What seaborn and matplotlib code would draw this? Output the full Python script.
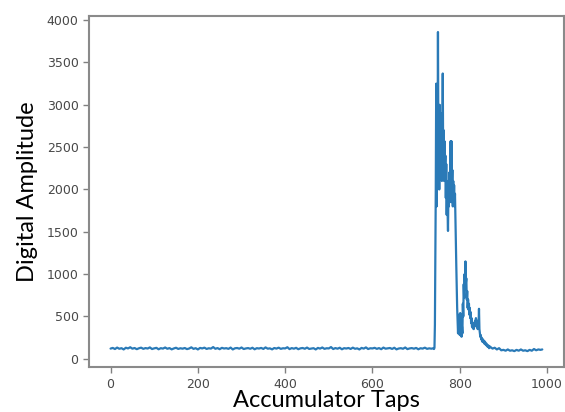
import matplotlib
matplotlib.use("Agg")
import matplotlib.pyplot as plt
import seaborn as sns
import pandas as pd

# --- data -------------------------------------------------------------------
base_pre_x = list(range(0, 741, 5))
base_pre_y = [120, 128, 115, 132, 118, 125, 110, 130, 122, 136, 119, 127, 113, 124, 131, 117,
              126, 121, 134, 115, 123, 129, 112, 125, 120, 133, 118, 126, 111, 122, 130, 116,
              124, 119, 127, 114, 121, 135, 117, 125, 110, 128, 122, 131, 116, 124, 120, 138,
              118, 126, 113, 129, 121, 125, 117, 132, 110, 124, 127, 119, 133, 115, 122, 126,
              118, 130, 112, 125, 121, 128, 116, 134, 119, 123, 111, 127, 120, 131, 117, 124,
              122, 136, 114, 126, 119, 129, 113, 123, 127, 118, 132, 116, 121, 125, 110, 128,
              120, 133, 117, 124, 122, 138, 115, 126, 119, 130, 112, 125, 121, 127, 116, 131,
              118, 123, 110, 128, 120, 134, 115, 124, 122, 129, 117, 126, 113, 132, 119, 123,
              127, 116, 130, 111, 121, 125, 118, 133, 114, 122, 126, 119, 128, 112, 124, 120,
              131, 117, 123, 119, 125]
peak_x = list(range(741, 870))
peak_y = [115, 130, 400, 1200, 2000, 3250, 1800, 3000, 2200, 3860,
          2500, 2900, 2000, 3000, 2300, 2800, 2200, 2900, 2100, 2600,
          3370, 2300, 2700, 2100, 2570, 2200, 2400, 1900, 2300, 1700,
          2100, 1750, 1510, 2000, 1800, 2200, 1900, 2100, 2570, 1850,
          2570, 2000, 2230, 1800, 2100, 1850, 2050, 1800, 1950, 1650,
          1400, 1100, 850, 600, 450, 300, 520, 330, 480, 280,
          540, 350, 460, 260, 380, 300, 650, 500, 880, 720,
          1000, 820, 1150, 900, 950, 700, 800, 600, 700, 580,
          650, 520, 600, 480, 550, 420, 480, 380, 430, 360,
          400, 350, 420, 380, 450, 400, 480, 420, 380, 420,
          350, 450, 400, 590, 350, 300, 260, 280, 230, 250,
          210, 200, 230, 220, 190, 180, 205, 200, 170, 160,
          180, 170, 150, 140, 160, 150, 125, 130, 145]
base_post_x = list(range(870, 986, 5)) + [989]
base_post_y = [140, 120, 130, 110, 125, 100, 105, 95, 110, 95, 100, 90,
               105, 95, 110, 95, 100, 90, 105, 95, 115, 100, 110, 105, 110]

taps = base_pre_x + peak_x + base_post_x
amplitude = base_pre_y + peak_y + base_post_y

xticks = [0, 200, 400, 600, 800, 1000]
yticks = [0, 500, 1000, 1500, 2000, 2500, 3000, 3500, 4000]

df = pd.DataFrame({"taps": taps, "amplitude": amplitude})

# --- figure ----------------------------------------------------------------
sns.set_theme(style="white")
plt.rcParams["font.family"] = ["DejaVu Sans"]

fig = plt.figure(figsize=(5.65, 4.12), dpi=100)
ax = fig.add_axes([0.1575, 0.109, 0.8405, 0.852])

sns.lineplot(data=df, x="taps", y="amplitude", ax=ax, color="#2a7ab7", linewidth=1.6)
ax.margins(x=0.05, y=0.05)

ax.set_xticks(xticks)
ax.set_yticks(yticks)
ax.tick_params(axis="both", which="both", direction="out", length=4, width=1,
               color="#808080", labelsize=9, labelcolor="#484848", pad=3.5,
               bottom=True, left=True)

for sp in ax.spines.values():
    sp.set_visible(True)
    sp.set_color("#8a8a8a")
    sp.set_linewidth(1.5)

ax.set_xlabel("Accumulator Taps", fontsize=17, family=["Lato", "DejaVu Sans"],
              color="black", va="bottom")
ax.xaxis.set_label_coords(0.5, -0.126)
ax.set_ylabel("Digital Amplitude", fontsize=17, family=["Lato", "DejaVu Sans"], color="black", labelpad=6)

fig.savefig("out.png", dpi=100)
